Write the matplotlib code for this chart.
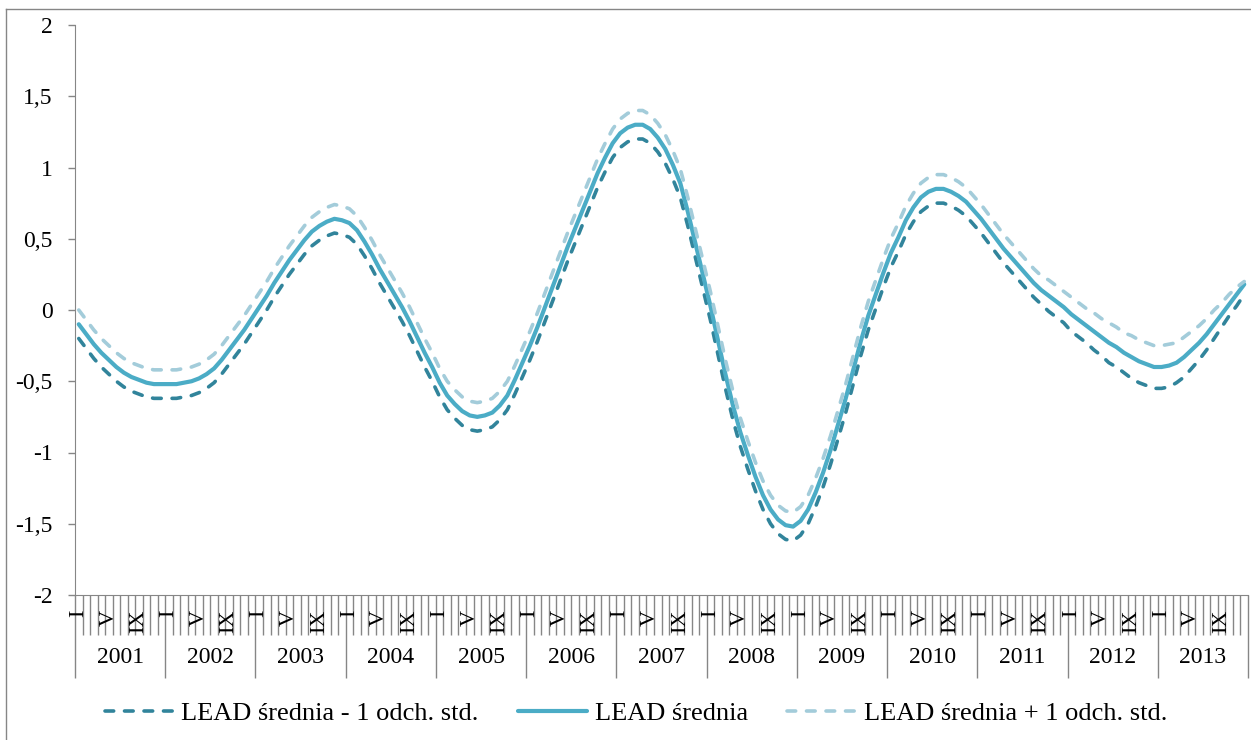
import numpy as np
import matplotlib.pyplot as plt
import matplotlib.transforms as mtransforms
from matplotlib.ticker import FixedLocator, FuncFormatter, NullFormatter
from matplotlib.lines import Line2D

plt.rcParams['font.family'] = ['Liberation Serif', 'DejaVu Serif']

# ---------------------------------------------------
# Data (monthly, 2001-2013)
# ---------------------------------------------------
years = ['2001', '2002', '2003', '2004', '2005', '2006', '2007',
         '2008', '2009', '2010', '2011', '2012', '2013']
month_marks = [(0, 'I'), (4, 'V'), (8, 'IX')]

lead_mean = [
    -0.10, -0.17, -0.24, -0.30, -0.35, -0.40, -0.44, -0.47, -0.49, -0.51, -0.52, -0.52,
    -0.52, -0.52, -0.51, -0.50, -0.48, -0.45, -0.41, -0.35, -0.28, -0.21, -0.14, -0.06,
    0.02, 0.10, 0.19, 0.27, 0.35, 0.42, 0.49, 0.55, 0.59, 0.62, 0.64, 0.63,
    0.61, 0.56, 0.48, 0.39, 0.29, 0.20, 0.11, 0.02, -0.08, -0.19, -0.30, -0.40,
    -0.51, -0.60, -0.66, -0.71, -0.74, -0.75, -0.74, -0.72, -0.67, -0.60, -0.49, -0.37,
    -0.25, -0.12, 0.02, 0.16, 0.30, 0.44, 0.57, 0.70, 0.83, 0.96, 1.07, 1.17,
    1.24, 1.28, 1.30, 1.30, 1.27, 1.21, 1.13, 1.02, 0.89, 0.69, 0.47, 0.25,
    0.03, -0.21, -0.45, -0.67, -0.86, -1.02, -1.17, -1.30, -1.40, -1.47, -1.51, -1.52,
    -1.48, -1.40, -1.28, -1.14, -0.98, -0.80, -0.62, -0.42, -0.22, -0.04, 0.11, 0.26,
    0.40, 0.51, 0.63, 0.72, 0.79, 0.83, 0.85, 0.85, 0.83, 0.80, 0.76, 0.70,
    0.64, 0.57, 0.50, 0.43, 0.37, 0.31, 0.25, 0.19, 0.14, 0.10, 0.06, 0.02,
    -0.03, -0.07, -0.11, -0.15, -0.19, -0.23, -0.26, -0.30, -0.33, -0.36, -0.38, -0.40,
    -0.40, -0.39, -0.37, -0.33, -0.28, -0.23, -0.17, -0.10, -0.03, 0.04, 0.11, 0.18,
]

lead_minus = [
    -0.20, -0.27, -0.34, -0.40, -0.45, -0.50, -0.54, -0.57, -0.59, -0.61, -0.62, -0.62,
    -0.62, -0.62, -0.61, -0.60, -0.58, -0.55, -0.51, -0.45, -0.38, -0.31, -0.24, -0.16,
    -0.08, 0.00, 0.09, 0.17, 0.25, 0.32, 0.39, 0.45, 0.49, 0.52, 0.54, 0.53,
    0.51, 0.46, 0.38, 0.29, 0.19, 0.10, 0.01, -0.08, -0.18, -0.29, -0.40, -0.50,
    -0.61, -0.70, -0.76, -0.81, -0.84, -0.85, -0.84, -0.82, -0.77, -0.70, -0.59, -0.47,
    -0.35, -0.22, -0.08, 0.06, 0.20, 0.34, 0.47, 0.60, 0.73, 0.86, 0.97, 1.07,
    1.14, 1.18, 1.20, 1.20, 1.17, 1.11, 1.03, 0.92, 0.79, 0.59, 0.37, 0.15,
    -0.07, -0.31, -0.55, -0.77, -0.96, -1.12, -1.27, -1.40, -1.50, -1.57, -1.61, -1.62,
    -1.58, -1.50, -1.38, -1.24, -1.08, -0.90, -0.72, -0.52, -0.32, -0.14, 0.01, 0.16,
    0.30, 0.41, 0.53, 0.62, 0.69, 0.73, 0.75, 0.75, 0.73, 0.70, 0.66, 0.60,
    0.54, 0.47, 0.40, 0.33, 0.27, 0.21, 0.15, 0.09, 0.04, -0.01, -0.05, -0.09,
    -0.15, -0.19, -0.23, -0.28, -0.32, -0.37, -0.40, -0.44, -0.48, -0.51, -0.53, -0.55,
    -0.55, -0.54, -0.51, -0.47, -0.41, -0.35, -0.28, -0.20, -0.12, -0.04, 0.03, 0.11,
]

lead_plus = [
    0.00, -0.07, -0.14, -0.20, -0.25, -0.30, -0.34, -0.37, -0.39, -0.41, -0.42, -0.42,
    -0.42, -0.42, -0.41, -0.40, -0.38, -0.35, -0.31, -0.25, -0.18, -0.11, -0.04, 0.04,
    0.12, 0.20, 0.29, 0.37, 0.45, 0.52, 0.59, 0.65, 0.69, 0.72, 0.74, 0.73,
    0.71, 0.66, 0.58, 0.49, 0.39, 0.30, 0.21, 0.12, 0.02, -0.09, -0.20, -0.30,
    -0.41, -0.50, -0.56, -0.61, -0.64, -0.65, -0.64, -0.62, -0.57, -0.50, -0.39, -0.27,
    -0.15, -0.02, 0.12, 0.26, 0.40, 0.54, 0.67, 0.80, 0.93, 1.06, 1.17, 1.27,
    1.34, 1.38, 1.40, 1.40, 1.37, 1.31, 1.23, 1.12, 0.99, 0.79, 0.57, 0.35,
    0.13, -0.11, -0.35, -0.57, -0.76, -0.92, -1.07, -1.20, -1.30, -1.37, -1.41, -1.42,
    -1.38, -1.30, -1.18, -1.04, -0.88, -0.70, -0.52, -0.32, -0.12, 0.06, 0.21, 0.36,
    0.50, 0.61, 0.73, 0.82, 0.89, 0.93, 0.95, 0.95, 0.93, 0.90, 0.86, 0.80,
    0.74, 0.67, 0.60, 0.53, 0.47, 0.41, 0.35, 0.29, 0.24, 0.21, 0.17, 0.13,
    0.09, 0.05, 0.01, -0.02, -0.06, -0.09, -0.12, -0.16, -0.18, -0.21, -0.23, -0.25,
    -0.25, -0.24, -0.23, -0.19, -0.15, -0.11, -0.06, 0.00, 0.05, 0.11, 0.16, 0.20,
]

labels = ['LEAD średnia - 1 odch. std.', 'LEAD średnia', 'LEAD średnia + 1 odch. std.']
colors = ['#31849B', '#4BACC6', '#A3CCDA']

# ---------------------------------------------------
# Figure
# ---------------------------------------------------
fig = plt.figure(figsize=(12.51, 7.40), dpi=100)
ax = fig.add_axes([75 / 1251, 145 / 740, 1173 / 1251, 570 / 740])

x = np.arange(len(lead_mean))
grey = '#868686'

ax.plot(x, lead_minus, color=colors[0], lw=2.6, dashes=(2.4, 3.0),
        dash_capstyle='round', label=labels[0])
ax.plot(x, lead_mean, color=colors[1], lw=3.0, solid_capstyle='round',
        solid_joinstyle='round', label=labels[1])
ax.plot(x, lead_plus, color=colors[2], lw=2.6, dashes=(2.4, 3.0),
        dash_capstyle='round', label=labels[2])

ax.set_xlim(-0.5, len(lead_mean) - 0.5)
ax.set_ylim(-2, 2)

# y axis
ax.set_yticks(np.arange(-2, 2.01, 0.5))
ax.yaxis.set_major_formatter(FuncFormatter(lambda v, p: f'{v:g}'.replace('.', ',')))
ax.tick_params(axis='y', length=5, width=1, color=grey, pad=11, labelsize=17)

for side in ['top', 'right']:
    ax.spines[side].set_visible(False)
ax.spines['left'].set_color(grey)
ax.spines['bottom'].set_color(grey)

# x axis: month boundaries (minor), year boundaries (major)
n_years = len(years)
ax.xaxis.set_major_locator(FixedLocator([12 * k - 0.5 for k in range(n_years + 1)]))
ax.xaxis.set_minor_locator(FixedLocator([m - 0.5 for m in range(12 * n_years + 1)]))
ax.xaxis.set_major_formatter(NullFormatter())
ax.tick_params(axis='x', which='major', length=60, width=1, color=grey)
ax.tick_params(axis='x', which='minor', length=29, width=1, color=grey)

trans = mtransforms.blended_transform_factory(ax.transData, ax.transAxes)
for k, yr in enumerate(years):
    for m, lab in month_marks:
        ax.text(12 * k + m, -0.026, lab, transform=trans, rotation=90,
                ha='center', va='top', fontsize=16)
    ax.text(12 * k + 5.5, -0.109, yr, transform=trans, ha='center',
            va='center', fontsize=17)

# legend
ax.legend(loc='center', bbox_to_anchor=(636 / 1251, 27 / 740),
          bbox_transform=fig.transFigure, ncol=3, frameon=False,
          fontsize=19, handlelength=2.6, handletextpad=0.3, columnspacing=1.5)

# outer chart border
fig.add_artist(Line2D([6 / 1251, 6 / 1251], [0, 731 / 740], color=grey, lw=1))
fig.add_artist(Line2D([6 / 1251, 1], [731 / 740, 731 / 740], color=grey, lw=1))

fig.savefig('out.png', dpi=100)
